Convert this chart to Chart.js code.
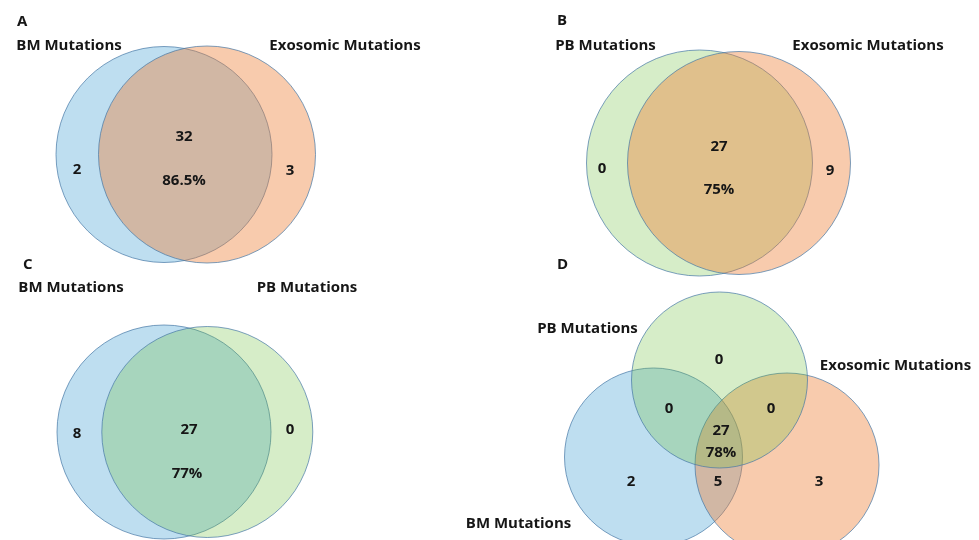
<!DOCTYPE html>
<html>
<head>
<meta charset="utf-8">
<script src="https://cdn.jsdelivr.net/npm/chart.js@4.4.1/dist/chart.umd.min.js"></script>
<style>
  html, body { margin: 0; padding: 0; background: #ffffff; }
  #page { position: relative; width: 979px; height: 540px; overflow: hidden; background: #ffffff; }
  .panel { position: absolute; }
  .panel canvas { display: block; }
</style>
</head>
<body>
<div id="page">
  <div class="panel" id="pA" style="left:0px;top:0px;"><canvas id="cA" width="480" height="270"></canvas></div>
  <div class="panel" id="pB" style="left:480px;top:0px;"><canvas id="cB" width="499" height="280"></canvas></div>
  <div class="panel" id="pC" style="left:0px;top:255px;"><canvas id="cC" width="480" height="285"></canvas></div>
  <div class="panel" id="pD" style="left:460px;top:255px;"><canvas id="cD" width="519" height="285"></canvas></div>
</div>
<script>
// ---- Set names, region counts and shared percentages ----
// Panel A: BM vs exosomic mutations -> [BM only, both, exosomic only]
const setsA = ['BM Mutations', 'Exosomic Mutations'];
const countsA = [2, 32, 3];
const sharedA = 86.5;

// Panel B: PB vs exosomic mutations -> [PB only, both, exosomic only]
const setsB = ['PB Mutations', 'Exosomic Mutations'];
const countsB = [0, 27, 9];
const sharedB = 75;

// Panel C: BM vs PB mutations -> [BM only, both, PB only]
const setsC = ['BM Mutations', 'PB Mutations'];
const countsC = [8, 27, 0];
const sharedC = 77;

// Panel D: PB, exosomic and BM mutations
// [PB only, PB∩BM, PB∩Exo, all three, BM only, BM∩Exo, Exo only]
const setsD = ['PB Mutations', 'Exosomic Mutations', 'BM Mutations'];
const countsD = [0, 0, 0, 27, 2, 5, 3];
const sharedD = 78;

const panelLetters = ['A', 'B', 'C', 'D'];

// ---- Styling ----
const FILL = {
  blue:   'rgba(92, 172, 217, 0.4)',
  orange: 'rgba(237, 125, 49, 0.4)',
  green:  'rgba(109, 191, 59, 0.28)'
};
const EDGE = 'rgba(70, 120, 165, 0.7)';
const FONT = 'bold 15px "Open Sans", Lato, sans-serif';
const INK = '#161616';

const pct = v => v + '%';

// Draws the set names, panel letter and region counts in scale units.
const vennText = {
  id: 'vennText',
  afterDatasetsDraw(chart, args, opts) {
    const { ctx } = chart;
    const sx = chart.scales.x, sy = chart.scales.y;
    ctx.save();
    ctx.fillStyle = INK;
    ctx.textBaseline = 'middle';
    (opts.items || []).forEach(t => {
      ctx.font = t.font || FONT;
      ctx.textAlign = t.align || 'center';
      ctx.fillText(String(t.text), sx.getPixelForValue(t.x), sy.getPixelForValue(t.y));
    });
    ctx.restore();
  }
};

// Circle radius is given in x-scale units and converted to pixels.
function unitRadius(ctx) {
  const s = ctx.chart.scales.x;
  const p = ctx.raw;
  return Math.abs(s.getPixelForValue(p.r) - s.getPixelForValue(0));
}

function vennChart(id, circles, colors, items) {
  const canvas = document.getElementById(id);
  const w = canvas.width / 100, h = canvas.height / 100;
  return new Chart(canvas, {
    type: 'scatter',
    data: {
      datasets: [{
        data: circles,
        backgroundColor: colors,
        borderColor: EDGE,
        borderWidth: 1,
        hoverBorderWidth: 1,
        pointRadius: unitRadius,
        pointHoverRadius: unitRadius,
        clip: false
      }]
    },
    options: {
      responsive: false,
      devicePixelRatio: 1,
      animation: false,
      events: [],
      layout: { padding: 0 },
      scales: {
        x: { type: 'linear', min: 0, max: w, display: false },
        y: { type: 'linear', min: 0, max: h, reverse: true, display: false }
      },
      plugins: {
        legend: { display: false },
        tooltip: { enabled: false },
        vennText: { items }
      }
    },
    plugins: [vennText]
  });
}

// ---- Panel A ----
vennChart('cA',
  [{ x: 1.64, y: 1.545, r: 1.08 }, { x: 2.07, y: 1.545, r: 1.085 }],
  [FILL.blue, FILL.orange],
  [
    { text: panelLetters[0], x: 0.17, y: 0.22, align: 'left' },
    { text: setsA[0], x: 0.69, y: 0.46 },
    { text: setsA[1], x: 3.45, y: 0.46 },
    { text: countsA[0], x: 0.77, y: 1.70 },
    { text: countsA[1], x: 1.84, y: 1.37 },
    { text: pct(sharedA), x: 1.84, y: 1.81 },
    { text: countsA[2], x: 2.90, y: 1.71 }
  ]);

// ---- Panel B ----
vennChart('cB',
  [{ x: 2.195, y: 1.63, r: 1.13 }, { x: 2.59, y: 1.63, r: 1.115 }],
  [FILL.green, FILL.orange],
  [
    { text: panelLetters[1], x: 0.77, y: 0.21, align: 'left' },
    { text: setsB[0], x: 1.255, y: 0.46 },
    { text: setsB[1], x: 3.88, y: 0.46 },
    { text: countsB[0], x: 1.22, y: 1.69 },
    { text: countsB[1], x: 2.39, y: 1.47 },
    { text: pct(sharedB), x: 2.39, y: 1.90 },
    { text: countsB[2], x: 3.50, y: 1.71 }
  ]);

// ---- Panel C ----
vennChart('cC',
  [{ x: 1.64, y: 1.77, r: 1.07 }, { x: 2.073, y: 1.77, r: 1.055 }],
  [FILL.blue, FILL.green],
  [
    { text: panelLetters[2], x: 0.23, y: 0.10, align: 'left' },
    { text: setsC[0], x: 0.71, y: 0.33 },
    { text: setsC[1], x: 3.07, y: 0.33 },
    { text: countsC[0], x: 0.77, y: 1.79 },
    { text: countsC[1], x: 1.89, y: 1.75 },
    { text: pct(sharedC), x: 1.87, y: 2.19 },
    { text: countsC[2], x: 2.90, y: 1.75 }
  ]);

// ---- Panel D ----
vennChart('cD',
  [{ x: 1.935, y: 2.02, r: 0.89 }, { x: 3.27, y: 2.10, r: 0.92 }, { x: 2.595, y: 1.25, r: 0.88 }],
  [FILL.blue, FILL.orange, FILL.green],
  [
    { text: panelLetters[3], x: 0.97, y: 0.10, align: 'left' },
    { text: setsD[0], x: 1.275, y: 0.74 },
    { text: setsD[1], x: 4.355, y: 1.11 },
    { text: setsD[2], x: 0.585, y: 2.69 },
    { text: countsD[0], x: 2.59, y: 1.05 },
    { text: countsD[1], x: 2.09, y: 1.54 },
    { text: countsD[2], x: 3.11, y: 1.54 },
    { text: countsD[3], x: 2.61, y: 1.76 },
    { text: pct(sharedD), x: 2.61, y: 1.98 },
    { text: countsD[4], x: 1.71, y: 2.27 },
    { text: countsD[5], x: 2.58, y: 2.27 },
    { text: countsD[6], x: 3.59, y: 2.27 }
  ]);
</script>
</body>
</html>
